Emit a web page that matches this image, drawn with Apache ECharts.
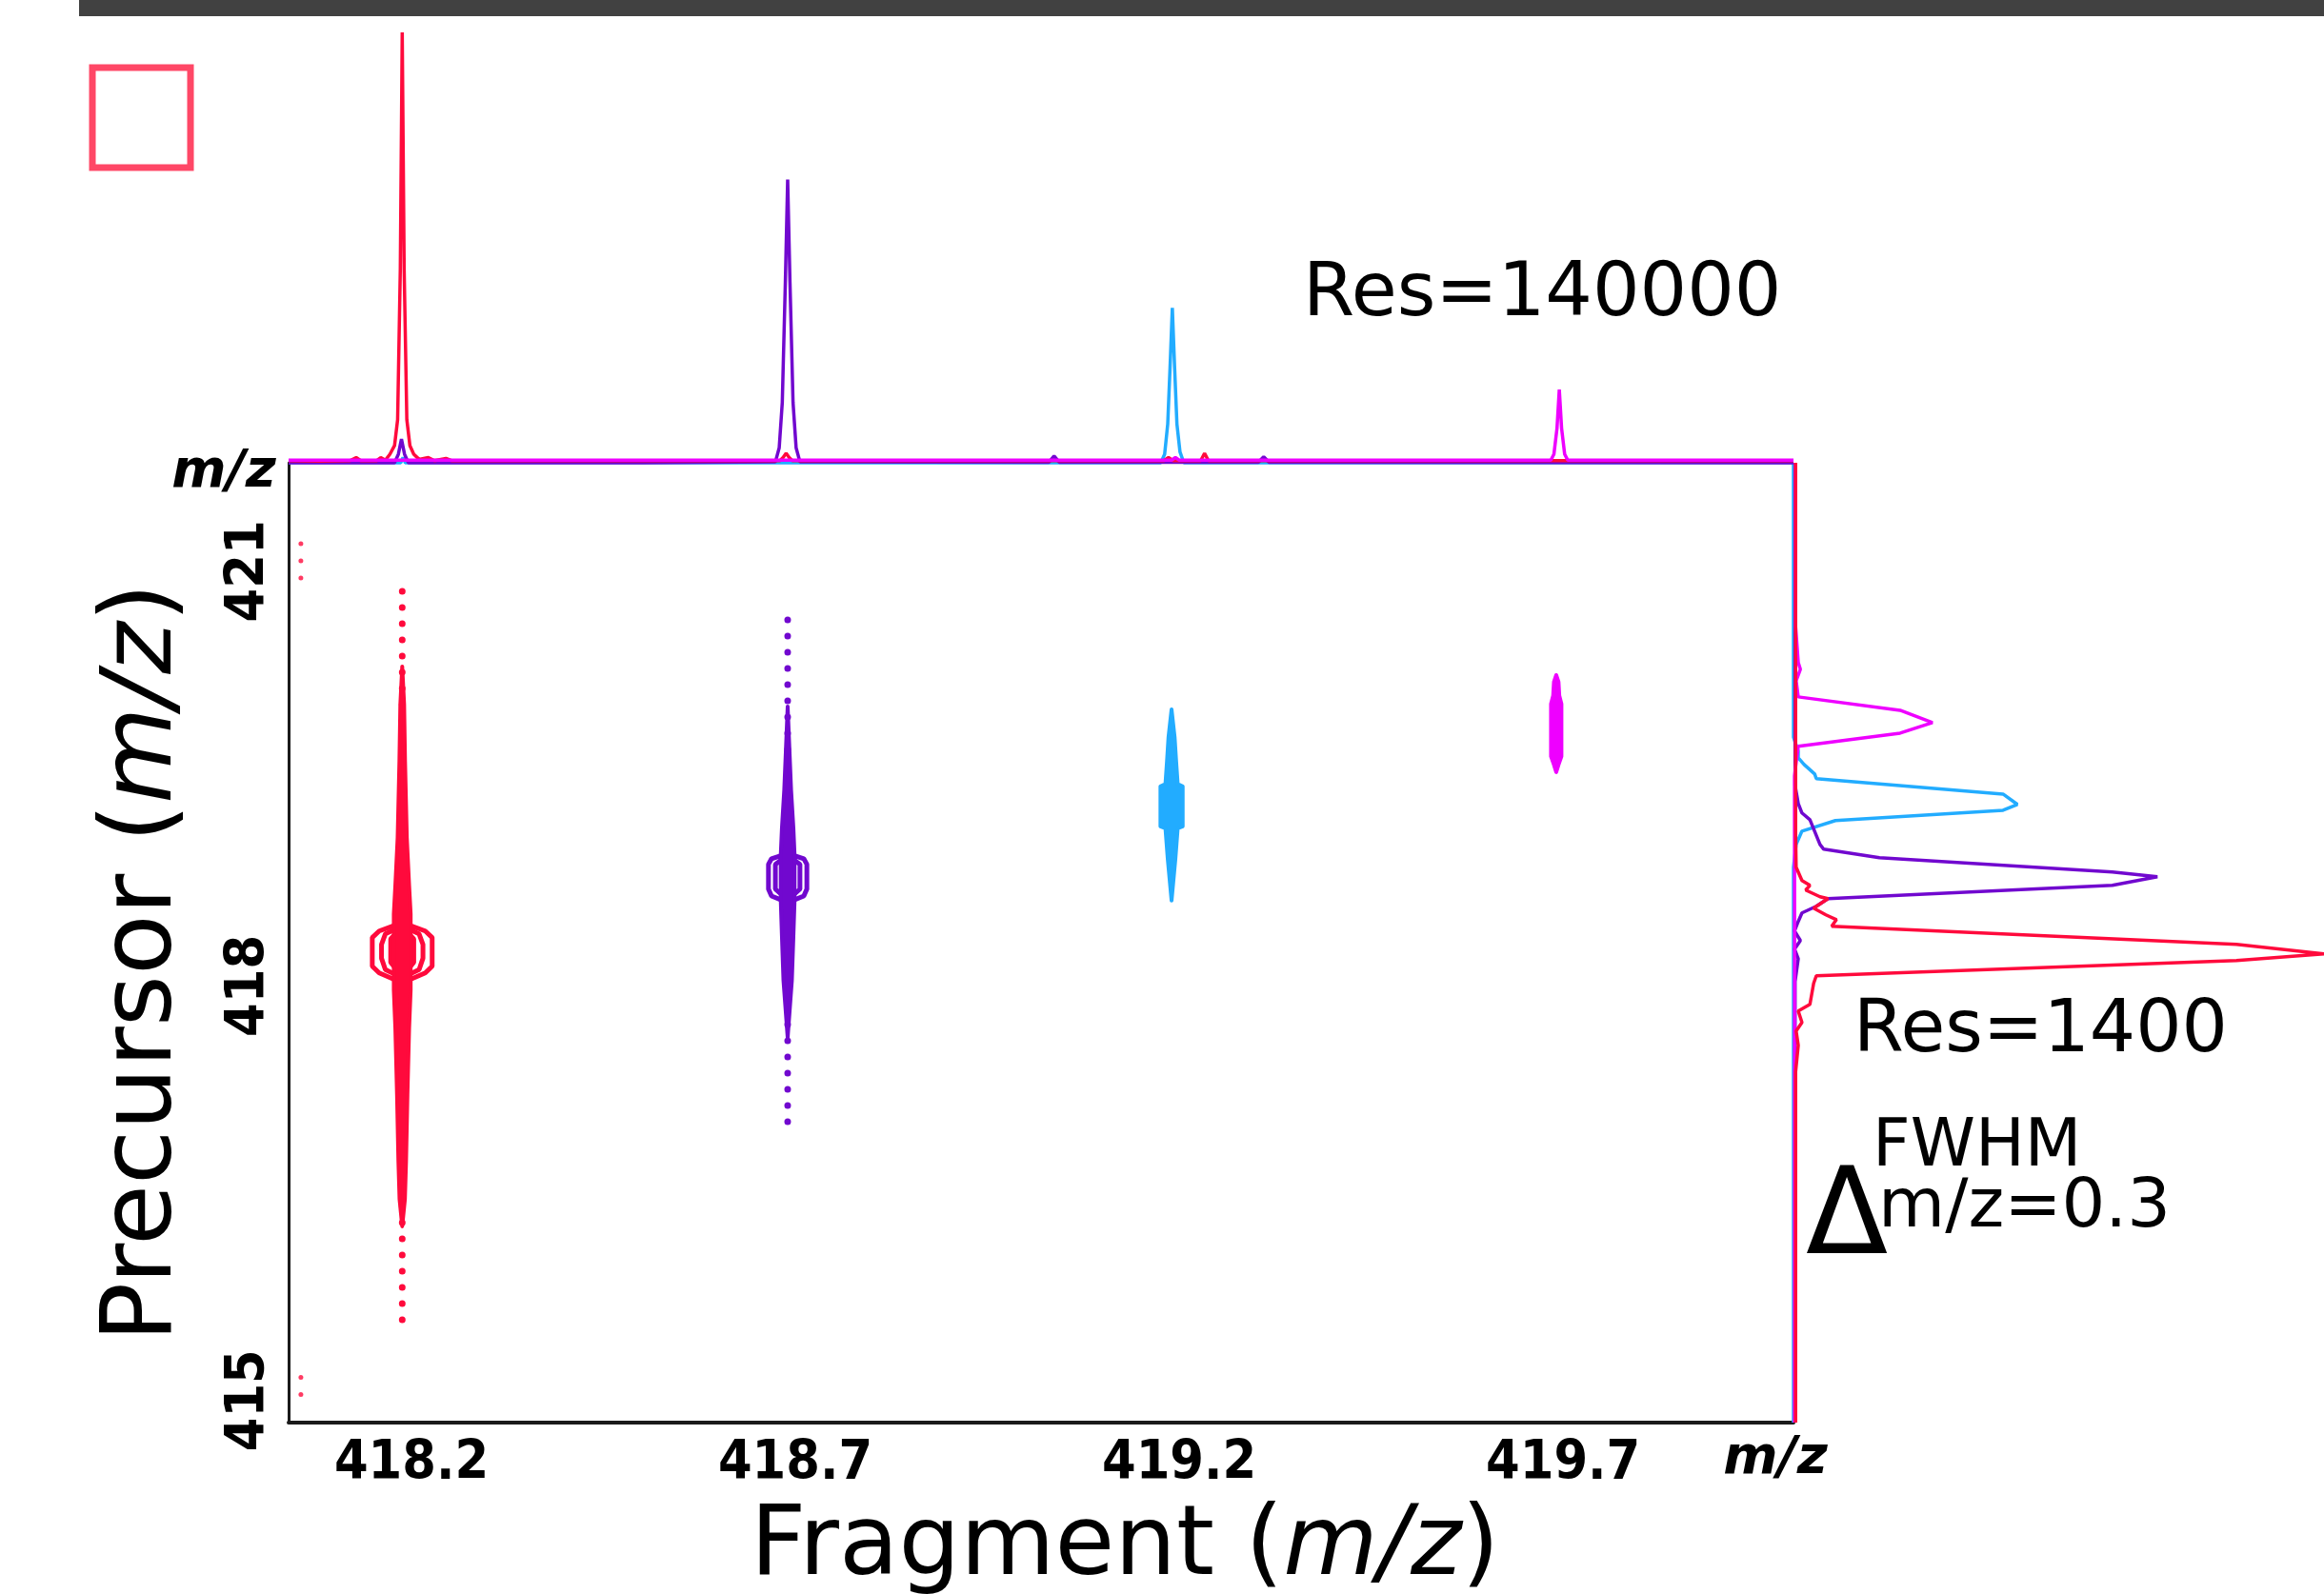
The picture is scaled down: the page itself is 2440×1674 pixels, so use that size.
<!DOCTYPE html>
<html>
<head>
<meta charset="utf-8">
<script src="https://cdn.jsdelivr.net/npm/echarts@6/dist/echarts.min.js"></script>
<style>
  html, body { margin: 0; padding: 0; background: #fff; }
  #chart { width: 2440px; height: 1674px; }
</style>
</head>
<body>
<div id="chart"></div>
<script>
// axis ranges (m/z)
const fragMin = 418.04, fragMax = 420.0;
const precMin = 414.84, precMax = 421.785;
const fragTicks = [418.2, 418.7, 419.2, 419.7];
const precTicks = [415, 418, 421];

const colors = {
  red: "#ff0a3c",
  purple: "#7108cf",
  cyan: "#22acff",
  magenta: "#ee00ff",
};

// top spectrum, Res=140000 : [fragment m/z, rel. intensity]
const topRed = [
  [418.040, 0.005], [418.080, 0.004], [418.120, 0.005], [418.128, 0.012], [418.134, 0.005],
  [418.155, 0.005], [418.160, 0.012], [418.166, 0.006], [418.172, 0.02], [418.178, 0.04],
  [418.182, 0.10], [418.1855, 0.45], [418.188, 1.0], [418.1905, 0.45], [418.194, 0.10],
  [418.198, 0.04], [418.203, 0.02], [418.210, 0.008], [418.222, 0.012], [418.230, 0.005],
  [418.245, 0.010], [418.252, 0.005], [418.400, 0.005], [418.680, 0.005], [418.684, 0.012],
  [418.688, 0.022], [418.692, 0.012], [418.696, 0.005], [419.180, 0.005], [419.186, 0.012],
  [419.192, 0.005], [419.228, 0.005], [419.233, 0.022], [419.238, 0.005], [419.600, 0.005],
  [420.000, 0.005],
];
const topPurple = [
  [418.040, 0.0], [418.178, 0.0], [418.183, 0.02], [418.187, 0.055], [418.191, 0.02],
  [418.196, 0.0], [418.500, 0.0], [418.674, 0.002], [418.679, 0.035], [418.683, 0.14],
  [418.687, 0.42], [418.690, 0.658], [418.693, 0.42], [418.697, 0.14], [418.701, 0.035],
  [418.706, 0.002], [419.030, 0.001], [419.037, 0.016], [419.044, 0.001], [419.303, 0.001],
  [419.310, 0.014], [419.317, 0.001], [420.000, 0.0],
];
const topCyan = [
  [418.040, 0.0], [418.186, 0.0], [418.189, 0.012], [418.192, 0.0], [419.176, 0.0],
  [419.181, 0.02], [419.185, 0.09], [419.188, 0.22], [419.191, 0.36], [419.194, 0.22],
  [419.197, 0.09], [419.201, 0.025], [419.206, 0.0], [420.000, 0.0],
];
const topMagenta = [
  [418.040, 0.006], [419.190, 0.006], [419.195, 0.012], [419.200, 0.006], [419.684, 0.006],
  [419.688, 0.02], [419.692, 0.08], [419.695, 0.17], [419.698, 0.08], [419.702, 0.02],
  [419.706, 0.006], [420.000, 0.006],
];

// right spectrum, Res=1400 : [rel. intensity, precursor m/z]
const rightMagenta = [
  [0.004, 421.785], [0.004, 420.60], [0.009, 420.339], [0.013, 420.291], [0.005, 420.208],
  [0.009, 420.091], [0.201, 419.994], [0.262, 419.905], [0.201, 419.829], [0.009, 419.733],
  [0.005, 419.616], [0.002, 419.519], [0.002, 414.84],
];
const rightCyan = [
  [0.0, 421.785], [0.0, 419.80], [0.009, 419.698], [0.009, 419.650], [0.020, 419.602],
  [0.040, 419.533], [0.043, 419.499], [0.395, 419.388], [0.422, 419.313], [0.395, 419.271],
  [0.079, 419.196], [0.016, 419.120], [0.005, 419.023], [0.0, 418.858], [0.0, 414.84],
];
const rightPurple = [
  [0.003, 421.785], [0.003, 419.45], [0.009, 419.320], [0.016, 419.251], [0.031, 419.202],
  [0.050, 419.023], [0.057, 418.989], [0.162, 418.927], [0.601, 418.824], [0.686, 418.789],
  [0.601, 418.727], [0.065, 418.631], [0.043, 418.576], [0.016, 418.528], [0.009, 418.466],
  [0.002, 418.397], [0.013, 418.328], [0.002, 418.266], [0.009, 418.197], [0.003, 418.032],
  [0.003, 414.84],
];
const rightRed = [
  [0.004, 421.785], [0.004, 419.10], [0.005, 418.858], [0.016, 418.762], [0.031, 418.727],
  [0.023, 418.693], [0.050, 418.645], [0.065, 418.631], [0.038, 418.562], [0.061, 418.514],
  [0.081, 418.479], [0.072, 418.431], [0.835, 418.300], [1.0, 418.231], [0.835, 418.183],
  [0.043, 418.073], [0.038, 418.018], [0.031, 417.866], [0.009, 417.818], [0.016, 417.736],
  [0.005, 417.674], [0.009, 417.570], [0.004, 417.377], [0.004, 414.84],
];

// 2D map: fragment centre of each isotope, dotted tail [top, bottom] precursor,
// spindle = outer contour (filled), rings = inner contours (outlined)
// outlines are [precursor, half width in fragment m/z]
const redCenter = 418.188;
const redTail = [420.855, 415.553];
const redSpindle = [
  [420.311, 0], [420.036, 0.0025], [419.623, 0.0037], [419.072, 0.006], [418.727, 0.009],
  [418.521, 0.011], [417.970, 0.011], [417.694, 0.009], [417.212, 0.0068], [416.730, 0.005],
  [416.455, 0.0035], [416.260, 0],
];
const redRings = [
  [[418.438, 0.010], [418.397, 0.030], [418.350, 0.039], [418.142, 0.039], [418.094, 0.030],
   [418.046, 0.010]],
  [[418.418, 0.006], [418.376, 0.022], [418.300, 0.027], [418.200, 0.027], [418.118, 0.022],
   [418.074, 0.006]],
  [[418.404, 0.004], [418.340, 0.015], [418.170, 0.015], [418.095, 0.004]],
];

const purpleCenter = 418.690;
const purpleTail = [420.649, 416.937];
const purpleSpindle = [
  [420.022, 0], [419.416, 0.0045], [419.140, 0.0075], [418.948, 0.009], [418.617, 0.009],
  [418.362, 0.0075], [418.039, 0.0055], [417.625, 0],
];
const purpleRings = [
  [[418.948, 0.006], [418.920, 0.021], [418.880, 0.025], [418.700, 0.025], [418.650, 0.021],
   [418.617, 0.006]],
  [[418.930, 0.004], [418.880, 0.016], [418.700, 0.016], [418.640, 0.004]],
];

const cyanCenter = 419.190;
const cyanSpindle = [
  [420.001, 0], [419.800, 0.004], [419.623, 0.006], [419.460, 0.008], [419.444, 0.0145],
  [419.154, 0.0145], [419.140, 0.008], [418.920, 0.005], [418.617, 0],
];
const cyanRings = [
  [[419.420, 0.007], [419.180, 0.007]],
];

const magentaCenter = 419.691;
const magentaSpindle = [
  [420.249, 0], [420.200, 0.003], [420.100, 0.004], [420.040, 0.0068], [419.660, 0.0068],
  [419.600, 0.003], [419.547, 0],
];

// stray red points next to the precursor axis
const redStray = [
  [418.056, 421.200], [418.056, 421.076], [418.056, 420.952],
  [418.056, 415.167], [418.056, 415.043],
];

function outline(cx, profile) {
  const right = profile.map((d) => [cx + d[1], d[0]]);
  const left = profile.slice().reverse().map((d) => [cx - d[1], d[0]]);
  const pts = right.concat(left);
  pts.push(pts[0]);
  return pts;
}

function ringSeries(cx, rings, color) {
  return rings.map((c) => ({
    type: "line",
    xAxisIndex: 0,
    yAxisIndex: 0,
    data: outline(cx, c),
    symbol: "none",
    silent: true,
    lineStyle: { color: color, width: 5 },
    z: 3,
  }));
}

// filled outer contour, drawn through the main grid's scales
function spindleSeries(cx, profile, color) {
  const pts = outline(cx, profile);
  return {
    type: "custom",
    coordinateSystem: "cartesian2d",
    xAxisIndex: 0,
    yAxisIndex: 0,
    data: [[cx, profile[0][0]]],
    silent: true,
    z: 4,
    renderItem: (params, api) => ({
      type: "polygon",
      shape: { points: pts.map((p) => api.coord(p)) },
      style: { fill: color, stroke: color, lineWidth: 4, lineJoin: "round" },
    }),
  };
}

function tailSeries(cx, tail, color) {
  return {
    type: "line",
    xAxisIndex: 0,
    yAxisIndex: 0,
    data: [[cx, tail[0]], [cx, tail[1]]],
    symbol: "none",
    silent: true,
    lineStyle: { color: color, width: 7, type: [0, 17], cap: "round" },
    z: 2,
  };
}

function specSeries(data, color, axis, z) {
  return {
    type: "line",
    xAxisIndex: axis,
    yAxisIndex: axis,
    data: data,
    symbol: "none",
    silent: true,
    clip: false,
    lineStyle: { color: color, width: 3.5 },
    z: z,
  };
}

const tickFont = '"DejaVu Sans Condensed", "DejaVu Sans", sans-serif';
const textFont = '"DejaVu Sans", Verdana, sans-serif';

const chart = echarts.init(document.getElementById("chart"));

chart.setOption({
  animation: false,
  backgroundColor: "#fff",
  grid: [
    { left: 303, top: 486, width: 1580, height: 1008 },
    { left: 303, top: 34, width: 1580, height: 452 },
    { left: 1883, top: 486, width: 557, height: 1008 },
  ],
  xAxis: [
    {
      gridIndex: 0,
      type: "value",
      min: fragMin,
      max: fragMax,
      axisLine: { show: true, onZero: false, lineStyle: { color: "#1a1a1a", width: 4 } },
      axisTick: { show: false },
      splitLine: { show: false },
      axisLabel: {
        customValues: fragTicks,
        formatter: (v) => v.toFixed(1),
        color: "#000",
        fontFamily: tickFont,
        fontWeight: "bold",
        fontSize: 57,
        margin: 16,
      },
    },
    { gridIndex: 1, type: "value", min: fragMin, max: fragMax, show: false },
    { gridIndex: 2, type: "value", min: 0, max: 1, show: false },
  ],
  yAxis: [
    {
      gridIndex: 0,
      type: "value",
      min: precMin,
      max: precMax,
      axisLine: { show: true, onZero: false, lineStyle: { color: "#1a1a1a", width: 3 } },
      axisTick: { show: false },
      splitLine: { show: false },
      axisLabel: {
        customValues: precTicks,
        rotate: 90,
        color: "#000",
        fontFamily: tickFont,
        fontWeight: "bold",
        fontSize: 57,
        margin: 12,
      },
    },
    { gridIndex: 1, type: "value", min: 0, max: 1, show: false },
    { gridIndex: 2, type: "value", min: precMin, max: precMax, show: false },
  ],
  series: [
    specSeries(topCyan, colors.cyan, 1, 4),
    specSeries(topPurple, colors.purple, 1, 5),
    specSeries(topRed, colors.red, 1, 6),
    specSeries(topMagenta, colors.magenta, 1, 7),
    specSeries(rightCyan, colors.cyan, 2, 4),
    specSeries(rightPurple, colors.purple, 2, 5),
    specSeries(rightMagenta, colors.magenta, 2, 6),
    specSeries(rightRed, colors.red, 2, 7),
    tailSeries(redCenter, redTail, colors.red),
    tailSeries(purpleCenter, purpleTail, colors.purple),
    ...ringSeries(redCenter, redRings, colors.red),
    ...ringSeries(purpleCenter, purpleRings, colors.purple),
    ...ringSeries(cyanCenter, cyanRings, colors.cyan),
    spindleSeries(redCenter, redSpindle, colors.red),
    spindleSeries(purpleCenter, purpleSpindle, colors.purple),
    spindleSeries(cyanCenter, cyanSpindle, colors.cyan),
    spindleSeries(magentaCenter, magentaSpindle, colors.magenta),
    {
      type: "scatter",
      xAxisIndex: 0,
      yAxisIndex: 0,
      data: redStray,
      symbolSize: 5,
      silent: true,
      itemStyle: { color: colors.red },
    },
  ],
  graphic: [
    { type: "rect", shape: { x: 83, y: 0, width: 2357, height: 17 }, style: { fill: "#414141" } },
    {
      type: "rect",
      shape: { x: 97, y: 71, width: 103, height: 105 },
      style: { fill: "none", stroke: "#ff4766", lineWidth: 7 },
    },
    {
      type: "text",
      x: 1368, y: 311,
      style: { text: "Res=140000", font: "78px " + textFont, fill: "#000", verticalAlign: "middle" },
    },
    {
      type: "text",
      x: 1946, y: 1084,
      style: { text: "Res=1400", font: "76px " + textFont, fill: "#000", verticalAlign: "middle" },
    },
    {
      type: "text",
      x: 1966, y: 1206,
      style: { text: "FWHM", font: "69px " + textFont, fill: "#000", verticalAlign: "middle" },
    },
    {
      type: "text",
      x: 1896, y: 1346,
      style: { text: "Δ", font: "126px " + textFont, fill: "#000", verticalAlign: "bottom" },
    },
    {
      type: "text",
      x: 1972, y: 1269,
      style: { text: "m/z=0.3", font: "72px " + textFont, fill: "#000", verticalAlign: "middle" },
    },
    {
      type: "text",
      x: 235, y: 497,
      style: {
        text: "m/z", font: "italic bold 55px " + textFont, fill: "#000",
        align: "center", verticalAlign: "middle",
      },
    },
    {
      type: "text",
      x: 1864, y: 1533,
      style: {
        text: "m/z", font: "italic bold 55px " + textFont, fill: "#000",
        align: "center", verticalAlign: "middle",
      },
    },
    {
      type: "text",
      x: 1181, y: 1626,
      style: {
        text: "Fragment ({i|m/z})",
        font: "102px " + textFont,
        fill: "#000",
        align: "center",
        verticalAlign: "middle",
        rich: { i: { fontStyle: "italic", fontSize: 102, fontFamily: textFont } },
      },
    },
    {
      type: "text",
      x: 152, y: 1011,
      rotation: Math.PI / 2,
      style: {
        text: "Precursor ({i|m/z})",
        font: "104px " + textFont,
        fill: "#000",
        align: "center",
        verticalAlign: "middle",
        rich: { i: { fontStyle: "italic", fontSize: 104, fontFamily: textFont } },
      },
    },
  ],
});
</script>
</body>
</html>
